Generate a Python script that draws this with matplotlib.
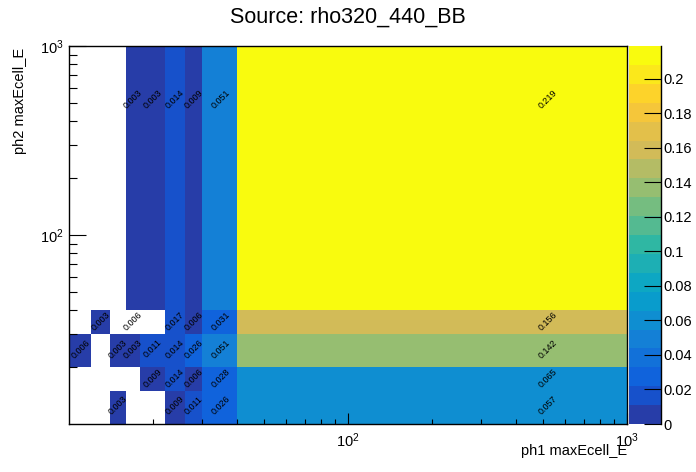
import numpy as np
import matplotlib
matplotlib.use('Agg')
import matplotlib.pyplot as plt
from matplotlib.colors import LinearSegmentedColormap, ListedColormap, BoundaryNorm
from matplotlib.cm import ScalarMappable
from matplotlib.ticker import NullFormatter

plt.rcParams['font.family'] = ['Liberation Sans', 'DejaVu Sans']
plt.rcParams['mathtext.default'] = 'regular'

# bin edges (ph1 on x, ph2 on y)
x_edges = [10, 12, 14, 16, 18, 22, 26, 30, 40, 1000]
y_edges = [10, 15, 20, 30, 40, 1000]

# bin contents, rows from bottom (y) to top, columns left to right (x)
values = [
    [0.000, 0.000, 0.003, 0.000, 0.000, 0.009, 0.011, 0.026, 0.057],
    [0.000, 0.000, 0.000, 0.000, 0.009, 0.014, 0.006, 0.028, 0.065],
    [0.006, 0.000, 0.003, 0.003, 0.011, 0.014, 0.026, 0.051, 0.142],
    [0.000, 0.003, 0.000, 0.006, 0.000, 0.017, 0.006, 0.031, 0.156],
    [0.000, 0.000, 0.000, 0.003, 0.003, 0.014, 0.009, 0.051, 0.219],
]
# cells that carry a number but no colour fill in the original
no_fill = [(3, 3)]

cbar_ticks = [0, 0.02, 0.04, 0.06, 0.08, 0.1, 0.12, 0.14, 0.16, 0.18, 0.2]

# ROOT kBird palette
stops = [0.0000, 0.1250, 0.2500, 0.3750, 0.5000, 0.6250, 0.7500, 0.8750, 1.0000]
red = [0.2082, 0.0592, 0.0780, 0.0232, 0.1802, 0.5301, 0.8186, 0.9956, 0.9764]
green = [0.1664, 0.3599, 0.5041, 0.6419, 0.7178, 0.7492, 0.7328, 0.7862, 0.9832]
blue = [0.5293, 0.8684, 0.8385, 0.7914, 0.6425, 0.4662, 0.3499, 0.1968, 0.0539]
bird = LinearSegmentedColormap.from_list('bird', list(zip(stops, zip(red, green, blue))))

nlev = 20
z = np.array(values)
zmax = z.max()
levels = np.linspace(0, zmax, nlev + 1)
cols = [bird(int((k + 0.99) * 255 / nlev) / 254.0) for k in range(nlev)]
cmap = ListedColormap(cols)
norm = BoundaryNorm(levels, nlev, clip=True)

fill = np.ma.masked_equal(z.copy(), 0)
for r, c in no_fill:
    fill[r, c] = np.ma.masked

W, H = 696, 472
fig = plt.figure(figsize=(W / 100, H / 100), dpi=100)
ax = fig.add_axes([69 / W, 1 - 424 / H, (627 - 69) / W, (424 - 46) / H])
ax.pcolormesh(x_edges, y_edges, fill, cmap=cmap, norm=norm)
ax.set_xscale('log')
ax.set_yscale('log')
ax.set_xlim(10, 1000)
ax.set_ylim(10, 1000)

# numbers in the cells, at the linear bin centre
for r in range(len(y_edges) - 1):
    for c in range(len(x_edges) - 1):
        v = z[r, c]
        if v == 0:
            continue
        xc = 0.5 * (x_edges[c] + x_edges[c + 1])
        yc = 0.5 * (y_edges[r] + y_edges[r + 1])
        ax.text(xc, yc, '%.3f' % v, rotation=45, ha='center', va='center', fontsize=6.5)

minors = [20, 30, 40, 50, 60, 70, 80, 90, 200, 300, 400, 500, 600, 700, 800, 900]
for axis in (ax.xaxis, ax.yaxis):
    axis.set_ticks([100, 1000])
    axis.set_ticklabels(['$10^{2}$', '$10^{3}$'])
    axis.set_ticks(minors, minor=True)
    axis.set_minor_formatter(NullFormatter())
ax.tick_params(axis='x', which='major', direction='in', length=8, width=0.8, top=False, labelsize=10.5, pad=5)
ax.tick_params(axis='x', which='minor', direction='in', length=3.6, width=0.8, top=False)
ax.tick_params(axis='y', which='major', direction='in', length=12, width=0.8, right=False, labelsize=10.5, pad=4)
ax.tick_params(axis='y', which='minor', direction='in', length=5.8, width=0.8, right=False)
for s in ax.spines.values():
    s.set_linewidth(1)

# palette
cax = fig.add_axes([629 / W, 1 - 424 / H, 32 / W, (424 - 46) / H])
cb = fig.colorbar(ScalarMappable(norm=norm, cmap=cmap), cax=cax)
cb.outline.set_visible(False)
cb.set_ticks(cbar_ticks, labels=['%g' % t for t in cbar_ticks])
cax.tick_params(direction='in', length=12, width=0.8, labelsize=10.5, pad=2)
cax.minorticks_off()
cax.axvline(1, color='k', lw=1, clip_on=False)

fig.text(0.5, 1 - 17 / H, 'Source: rho320_440_BB', ha='center', va='center', fontsize=15.5)
fig.text(627 / W, 1 - 451 / H, 'ph1 maxEcell_E', ha='right', va='center', fontsize=10.5)
fig.text(20 / W, 1 - 48 / H, 'ph2 maxEcell_E', rotation=90, ha='center', va='top', fontsize=10.5)

fig.savefig('out.png', dpi=100)
